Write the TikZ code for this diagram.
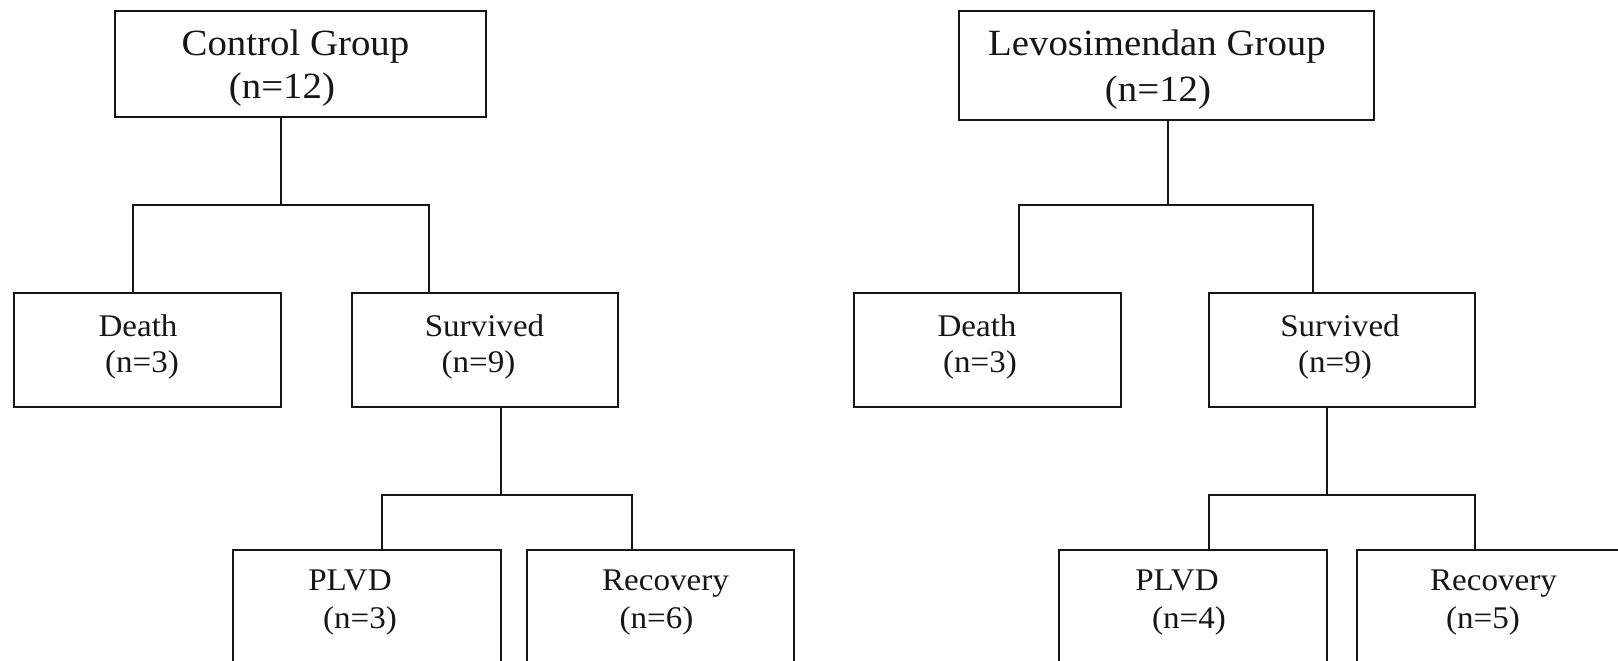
\documentclass[tikz,border=0pt]{standalone}
\usepackage{fontspec}
\setmainfont{Liberation Serif}[FakeStretch=1.05]
\definecolor{ink}{HTML}{161616}
\begin{document}
\begin{tikzpicture}[x=1pt,y=-1pt,
  box/.style={draw=ink,line width=2.9pt,rectangle,inner sep=0pt,line join=miter},
  link/.style={draw=ink,line width=2.7pt,line join=miter},
  big/.style={anchor=base,inner sep=0pt,font=\fontsize{37}{40}\selectfont,text=ink},
  small/.style={anchor=base,inner sep=0pt,font=\fontsize{31.5}{34}\selectfont,text=ink}]
\clip (0,0) rectangle (1618,661);
\fill[white] (0,0) rectangle (1618,661);
% boxes
\node[box,minimum width=371pt,minimum height=106pt] (ctrl) at (300.5,64) {};
\node[box,minimum width=415pt,minimum height=109pt] (levo) at (1166.5,65.5) {};
\node[box,minimum width=267pt,minimum height=114pt] (d1) at (147.5,350) {};
\node[box,minimum width=266pt,minimum height=114pt] (s1) at (485,350) {};
\node[box,minimum width=267pt,minimum height=114pt] (d2) at (987.5,350) {};
\node[box,minimum width=266pt,minimum height=114pt] (s2) at (1342,350) {};
\node[box,minimum width=268pt,minimum height=130pt] (p1) at (367,615) {};
\node[box,minimum width=267pt,minimum height=130pt] (r1) at (660.5,615) {};
\node[box,minimum width=268pt,minimum height=130pt] (p2) at (1193,615) {};
\node[box,minimum width=268pt,minimum height=130pt] (r2) at (1491,615) {};
% texts
\node[big] (tc1) at (295.5,56) {Control Group};
\node[big] (tc2) at (282,99) {(n=12)};
\node[big] (tl1) at (1157,56) {Levosimendan Group};
\node[big] (tl2) at (1158,101) {(n=12)};
\node[small] (td1a) at (138,336) {Death};
\node[small] (td1b) at (142,372) {(n=3)};
\node[small] (ts1a) at (484.5,336) {Survived};
\node[small] (ts1b) at (478.5,372) {(n=9)};
\node[small] (td2a) at (977,336) {Death};
\node[small] (td2b) at (980,372) {(n=3)};
\node[small] (ts2a) at (1340,336) {Survived};
\node[small] (ts2b) at (1335,372) {(n=9)};
\node[small] (tp1a) at (350,590) {PLVD};
\node[small] (tp1b) at (360,628) {(n=3)};
\node[small] (tr1a) at (665.5,590) {Recovery};
\node[small] (tr1b) at (656.5,628) {(n=6)};
\node[small] (tp2a) at (1177,590) {PLVD};
\node[small] (tp2b) at (1189,628) {(n=4)};
\node[small] (tr2a) at (1493.5,590) {Recovery};
\node[small] (tr2b) at (1483,628) {(n=5)};
% junctions
\coordinate (j1) at (281,205);  \coordinate (h1l) at (133,205);  \coordinate (h1r) at (429,205);
\coordinate (j2) at (1168,205); \coordinate (h2l) at (1019,205); \coordinate (h2r) at (1313,205);
\coordinate (j3) at (501,495);  \coordinate (h3l) at (382,495);  \coordinate (h3r) at (632,495);
\coordinate (j4) at (1327,495); \coordinate (h4l) at (1209,495); \coordinate (h4r) at (1475,495);
% connectors
\draw[link] (ctrl.south -| j1) -- (j1);
\draw[link] (d1.north -| h1l) -- (h1l) -- (h1r) -- (s1.north -| h1r);
\draw[link] (levo.south -| j2) -- (j2);
\draw[link] (d2.north -| h2l) -- (h2l) -- (h2r) -- (s2.north -| h2r);
\draw[link] (s1.south -| j3) -- (j3);
\draw[link] (p1.north -| h3l) -- (h3l) -- (h3r) -- (r1.north -| h3r);
\draw[link] (s2.south -| j4) -- (j4);
\draw[link] (p2.north -| h4l) -- (h4l) -- (h4r) -- (r2.north -| h4r);
\end{tikzpicture}
\end{document}
